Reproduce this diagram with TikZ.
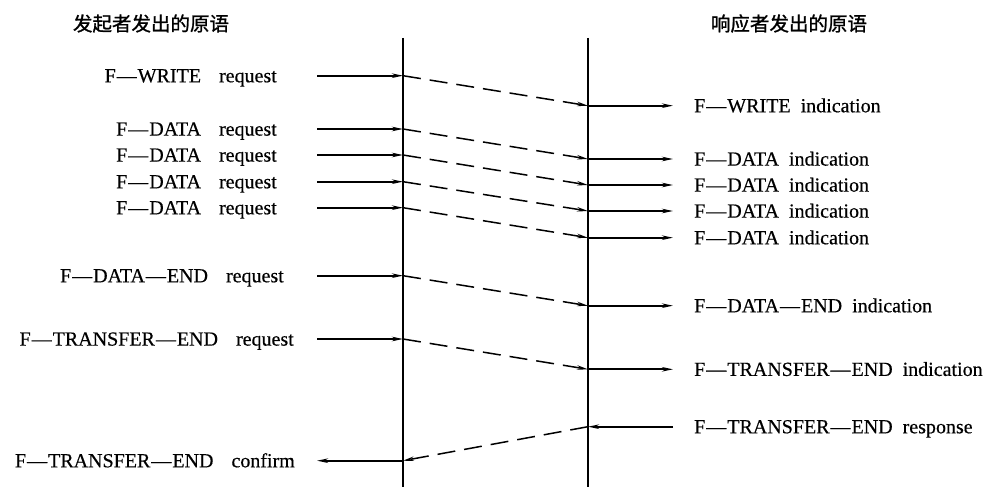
\documentclass[tikz,border=0pt]{standalone}
\usepackage{fontspec}
\setmainfont{Liberation Serif}[FakeBold=0.4]
\newfontfamily\cjk{Noto Sans CJK SC}[FakeBold=1.2]
\usetikzlibrary{arrows.meta}
\tikzset{
  lab/.style={inner sep=0pt, font=\fontsize{20bp}{24bp}\selectfont},
  ttl/.style={inner sep=0pt, font=\cjk\fontsize{19.5bp}{23bp}\selectfont},
  life/.style={line width=1.4bp},
  prim/.style={line width=1.7bp, -{Stealth[length=11bp,width=4.5bp]}},
  msg/.style={line width=1.5bp, dash pattern=on 18bp off 9bp, -{Stealth[length=11bp,width=4.5bp]}}
}
\newcommand{\dd}{\kern1bp—\kern1bp}
\newcommand{\lgap}{\hspace{18bp}}
\newcommand{\rgap}{\hspace{10bp}}
\begin{document}
\begin{tikzpicture}[x=1bp,y=-1bp]
\useasboundingbox (0,0) rectangle (988,487);
% titles
\node[ttl] (t1) at (151,23.5) {发起者发出的原语};
\node[ttl] (t2) at (789,23.5) {响应者发出的原语};
% lifelines
\coordinate (Atop) at (403,38); \coordinate (Abot) at (403,487);
\coordinate (Btop) at (588,38); \coordinate (Bbot) at (588,487);
\draw[life] (Atop) -- (Abot);
\draw[life] (Btop) -- (Bbot);
% left side points
\foreach \n/\y in {1/75.7,2/129,3/155,4/181.7,5/207.7,6/275.7,7/339,8/460.7}{
  \coordinate (ls\n) at (317,\y);
  \coordinate (la\n) at (403,\y);
}
% right side points
\foreach \n/\y in {1/105.7,2/159,3/185,4/211,5/237.7,6/305.7,7/369.3,8/426.7}{
  \coordinate (ra\n) at (588,\y);
  \coordinate (re\n) at (673,\y);
}
% left labels
\node[lab,anchor=base east] (q1) at (277,82.3) {F\dd WRITE\lgap request};
\node[lab,anchor=base east] (q2) at (277,135.6) {F\dd DATA\lgap request};
\node[lab,anchor=base east] (q3) at (277,161.6) {F\dd DATA\lgap request};
\node[lab,anchor=base east] (q4) at (277,188.3) {F\dd DATA\lgap request};
\node[lab,anchor=base east] (q5) at (277,214.3) {F\dd DATA\lgap request};
\node[lab,anchor=base east] (q6) at (284,282.3) {F\dd DATA\dd END\lgap request};
\node[lab,anchor=base east] (q7) at (294,345.6) {F\dd TRANSFER\dd END\lgap request};
\node[lab,anchor=base east] (q8) at (295,467.3) {F\dd TRANSFER\dd END\lgap confirm};
% right labels
\node[lab,anchor=base west] (i1) at (694,112.3) {F\dd WRITE\rgap indication};
\node[lab,anchor=base west] (i2) at (694,165.6) {F\dd DATA\rgap indication};
\node[lab,anchor=base west] (i3) at (694,191.6) {F\dd DATA\rgap indication};
\node[lab,anchor=base west] (i4) at (694,217.6) {F\dd DATA\rgap indication};
\node[lab,anchor=base west] (i5) at (694,244.3) {F\dd DATA\rgap indication};
\node[lab,anchor=base west] (i6) at (694,312.3) {F\dd DATA\dd END\rgap indication};
\node[lab,anchor=base west] (i7) at (694,375.9) {F\dd TRANSFER\dd END\rgap indication};
\node[lab,anchor=base west] (i8) at (694,433.3) {F\dd TRANSFER\dd END\rgap response};
% requests and indications
\foreach \n in {1,...,7}{
  \draw[prim] (ls\n) -- (la\n);
  \draw[msg] (la\n) -- (ra\n);
  \draw[prim] (ra\n) -- (re\n);
}
% response / confirm
\draw[prim] (re8) -- (ra8);
\draw[msg] (ra8) -- (la8);
\draw[prim] (la8) -- (ls8);
\end{tikzpicture}
\end{document}
